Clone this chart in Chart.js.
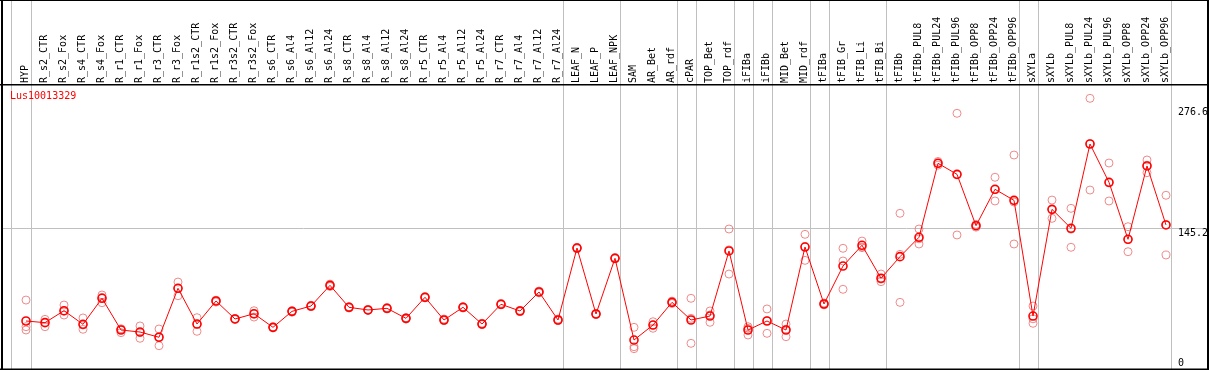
<!DOCTYPE html>
<html>
<head>
<meta charset="utf-8">
<script src="https://cdn.jsdelivr.net/npm/chart.js"></script>
<style>
  html, body { margin: 0; padding: 0; background: #fff; }
  .chart-wrapper { width: 1209px; height: 370px; position: relative; }
</style>
</head>
<body>
<div class="chart-wrapper">
  <canvas id="exprChart" width="1209" height="370"></canvas>
</div>
<script>
const geneName = "Lus10013329";

const categories = [
  "HYP", "R_s2_CTR", "R_s2_Fox", "R_s4_CTR", "R_s4_Fox", "R_r1_CTR", "R_r1_Fox", "R_r3_CTR", "R_r3_Fox",
  "R_r1s2_CTR", "R_r1s2_Fox", "R_r3s2_CTR", "R_r3s2_Fox", "R_s6_CTR", "R_s6_Al4", "R_s6_Al12", "R_s6_Al24",
  "R_s8_CTR", "R_s8_Al4", "R_s8_Al12", "R_s8_Al24", "R_r5_CTR", "R_r5_Al4", "R_r5_Al12", "R_r5_Al24",
  "R_r7_CTR", "R_r7_Al4", "R_r7_Al12", "R_r7_Al24", "LEAF_N", "LEAF_P", "LEAF_NPK", "SAM", "AR_Bet", "AR_rdf",
  "cPAR", "TOP_Bet", "TOP_rdf", "iFIBa", "iFIBb", "MID_Bet", "MID_rdf", "tFIBa", "tFIB_Gr", "tFIB_Li", "tFIB_Bi",
  "tFIBb", "tFIBb_PUL8", "tFIBb_PUL24", "tFIBb_PUL96", "tFIBb_OPP8", "tFIBb_OPP24", "tFIBb_OPP96",
  "sXYLa", "sXYLb", "sXYLb_PUL8", "sXYLb_PUL24", "sXYLb_PUL96", "sXYLb_OPP8", "sXYLb_OPP24", "sXYLb_OPP96"
];

// mean expression per sample
const meanValues = [
  44.4, 42.6, 55.6, 40.8, 69.1, 34.6, 32.4, 26.7, 80.0,
  41.1, 66.2, 46.6, 52.3, 37.5, 54.9, 60.7, 83.2,
  59.3, 56.4, 58.2, 47.3, 70.2, 45.5, 59.3, 41.1,
  62.6, 55.3, 76.0, 45.5, 123.8, 52.0, 112.6, 23.7, 40.0, 64.7,
  45.5, 49.8, 120.6, 34.6, 44.4, 34.6, 124.9, 62.9, 104.2, 126.8, 90.9,
  114.4, 135.5, 216.0, 204.0, 148.1, 187.7, 175.7,
  49.8, 165.9, 145.3, 237.0, 195.3, 133.3, 213.1, 148.9
];

// replicates
const rep1 = [
  67.2, 46.2, 61.8, 47.7, 72.7, 36.0, 39.0, 35.7, 86.8,
  48.0, 66.0, 46.0, 55.6, 37.0, 54.0, 60.0, 82.0,
  58.5, 56.0, 57.5, 46.5, 69.5, 45.0, 58.5, 40.5,
  62.0, 54.5, 75.0, 45.0, 123.0, 51.5, 112.0, 37.5, 43.6, 66.0,
  69.1, 55.3, 144.5, 38.2, 57.5, 41.1, 138.7, 62.0, 123.5, 131.4, 95.5,
  161.6, 144.5, 218.0, 270.4, 149.5, 200.8, 225.0,
  60.7, 176.0, 167.0, 286.7, 216.3, 147.0, 219.6, 181.2
];
const rep2 = [
  38.2, 38.2, 50.9, 35.4, 64.3, 31.7, 25.6, 17.5, 71.9,
  33.2, 67.0, 47.0, 48.7, 38.0, 55.5, 61.5, 84.5,
  60.0, 57.0, 59.0, 48.0, 71.0, 46.5, 60.0, 42.0,
  63.5, 56.0, 77.0, 46.5, 124.5, 52.5, 113.5, 16.4, 36.5, 63.5,
  20.1, 43.0, 95.5, 29.2, 31.0, 27.3, 110.4, 64.0, 109.7, 124.2, 87.2,
  64.7, 128.2, 214.0, 138.0, 146.5, 175.0, 128.2,
  41.9, 156.1, 124.6, 186.9, 175.0, 119.8, 205.8, 116.2
];
const rep3 = [
  34.6, 43.0, 55.0, 40.0, 70.0, 35.0, 32.0, 27.0, 80.0,
  41.0, 65.0, 47.0, 52.0, 37.5, 55.0, 60.5, 83.0,
  59.5, 56.0, 58.0, 47.5, 70.0, 45.0, 59.5, 41.0,
  62.5, 55.5, 76.0, 45.0, 124.0, 52.0, 112.5, 14.3, 40.0, 64.7,
  47.3, 51.0, 121.8, 36.4, 44.7, 35.4, 125.6, 63.0, 78.9, 125.0, 90.0,
  116.9, 133.8, 216.0, 203.6, 148.1, 187.3, 173.9,
  46.8, 165.6, 144.3, 237.4, 194.6, 133.1, 213.9, 149.3
];

// y tick labels on the right
const tickValues = [0, 145.2, 276.6];
const gridValues = [145.2];
// last sample of each group (index), separators drawn just after it
const groupEnds = [-1.05, 0, 28, 31, 34, 35, 37, 38, 39, 41, 42, 45, 52, 53, 60];

const toPoints = (arr) => arr.map((v, i) => ({ x: i, y: v }));

const frame = {
  id: "frame",
  beforeDatasetsDraw(chart) {
    const { ctx } = chart;
    const xs = chart.scales.x, ys = chart.scales.y;
    ctx.save();
    ctx.strokeStyle = "#c0c0c0";
    ctx.lineWidth = 1;
    groupEnds.forEach((g) => {
      const px = Math.round(xs.getPixelForValue(g + 0.25)) + 0.5;
      ctx.beginPath();
      ctx.moveTo(px, 0);
      ctx.lineTo(px, 370);
      ctx.stroke();
    });
    gridValues.forEach((v) => {
      const py = Math.round(ys.getPixelForValue(v)) + 0.5;
      ctx.beginPath();
      ctx.moveTo(2, py);
      ctx.lineTo(1208, py);
      ctx.stroke();
    });
    ctx.restore();
  },
  afterDraw(chart) {
    const { ctx } = chart;
    const xs = chart.scales.x, ys = chart.scales.y;
    ctx.save();
    ctx.font = "10px 'DejaVu Sans Mono', monospace";
    ctx.fillStyle = "#000";

    // sample names, rotated
    ctx.textAlign = "left";
    ctx.textBaseline = "middle";
    categories.forEach((name, i) => {
      const px = xs.getPixelForValue(i) - 0.5;
      ctx.save();
      ctx.translate(px, 83);
      ctx.rotate(-Math.PI / 2);
      ctx.fillText(name, 0, 0);
      ctx.restore();
    });

    // right tick labels
    ctx.textBaseline = "top";
    tickValues.forEach((v) => {
      const py = Math.min(ys.getPixelForValue(v), 358);
      ctx.fillText(String(v), 1178, py);
    });

    // gene name
    ctx.fillStyle = "#ff0000";
    ctx.fillText(geneName, 10, 91);

    // borders
    ctx.fillStyle = "#000";
    ctx.fillRect(0, 0, 1209, 1);
    ctx.fillRect(1, 0, 2, 370);
    ctx.fillRect(1207, 0, 2, 370);
    ctx.fillRect(0, 84, 1209, 1.5);
    ctx.fillRect(0, 368.5, 1209, 1.5);
    ctx.restore();
  },
};

new Chart(document.getElementById("exprChart").getContext("2d"), {
  type: "line",
  data: {
    datasets: [
      {
        label: "mean",
        data: toPoints(meanValues),
        borderColor: "#ff0000",
        borderWidth: 1,
        pointRadius: 4,
        pointBorderWidth: 1.6,
        pointBorderColor: "#ff0000",
        pointBackgroundColor: "rgba(0,0,0,0)",
        tension: 0,
        order: 0,
      },
      ...[rep1, rep2, rep3].map((r, k) => ({
        label: "rep" + (k + 1),
        data: toPoints(r),
        showLine: false,
        pointRadius: 4,
        pointBorderWidth: 1,
        pointBorderColor: "rgba(235,110,110,0.8)",
        pointBackgroundColor: "rgba(0,0,0,0)",
        order: 1,
      })),
    ],
  },
  options: {
    responsive: false,
    animation: false,
    clip: false,
    layout: { autoPadding: false, padding: { left: 2, right: 1, top: 85, bottom: 1 } },
    plugins: { legend: { display: false }, tooltip: { enabled: false } },
    scales: {
      x: { type: "linear", min: -1.2632, max: 62.2105, display: false },
      y: { type: "linear", min: -7.83, max: 301.2, display: false },
    },
  },
  plugins: [frame],
});
</script>
</body>
</html>
